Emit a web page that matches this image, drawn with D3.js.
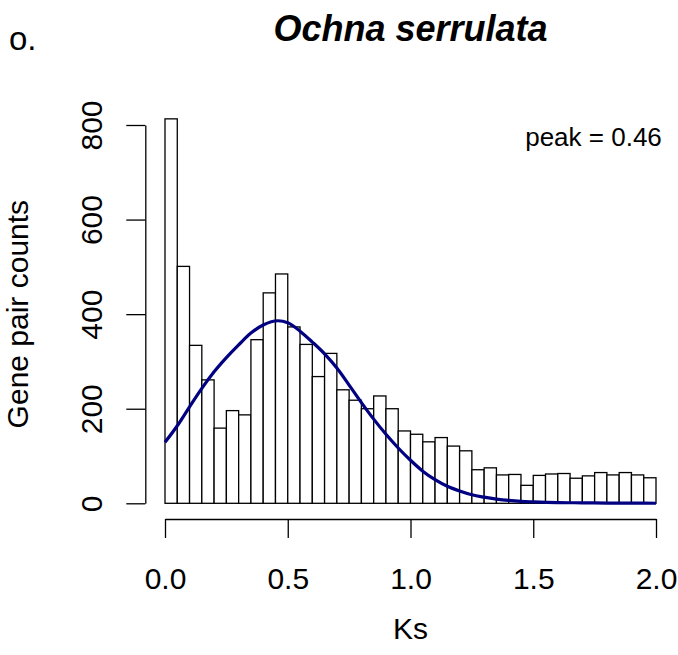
<!DOCTYPE html>
<html>
<head>
<meta charset="utf-8">
<script src="https://cdn.jsdelivr.net/npm/d3@7"></script>
<style>
  html, body { margin: 0; padding: 0; background: #fff; }
  svg { display: block; font-family: "Liberation Sans", Arial, Helvetica, sans-serif; }
</style>
</head>
<body>
<svg id="chart" width="678" height="655"></svg>
<script>
// ---- data ----
const binWidth = 0.05;
const binStarts = d3.range(0, 40).map(i => +(i * binWidth).toFixed(2));
const binCounts = [813, 501, 334, 261, 159, 196, 187, 346, 445, 485,
                   373, 336, 268, 317, 240, 218, 200, 227, 200, 153,
                   146, 130, 139, 121, 111, 71, 75, 60, 61, 38,
                   59, 62, 63, 53, 58, 65, 60, 65, 60, 54];
const curveKs =     [0, 0.05, 0.1, 0.15, 0.2, 0.25, 0.3, 0.35, 0.4, 0.46, 0.5, 0.55, 0.6, 0.65, 0.7, 0.75, 0.8, 0.85, 0.9, 0.95, 1.0, 1.05, 1.1, 1.15, 1.2, 1.25, 1.3, 1.35, 1.4, 1.45, 1.5, 1.6, 1.7, 1.8, 1.9, 2.0];
const curveCounts = [129, 164, 204, 243, 278, 308, 335, 360, 377, 386, 382, 364, 341, 316, 286, 250, 213, 178, 146, 117, 91, 68, 50, 36, 26, 18, 13, 9, 6, 4, 3, 1.5, 1, 0.5, 0.3, 0.1];
const xTicks = [0, 0.5, 1.0, 1.5, 2.0];
const yTicks = [0, 200, 400, 600, 800];
const titleText = "Ochna serrulata";
const panelLetter = "o.";
const peakLabel = "peak = 0.46";
const xLabel = "Ks";
const yLabel = "Gene pair counts";

// ---- layout ----
const svg = d3.select("#chart");
const x = d3.scaleLinear().domain([0, 2]).range([165, 656]);
const y = d3.scaleLinear().domain([0, 800]).range([503.3, 125]);
const fontBase = 30;

// bars
svg.append("g").selectAll("rect")
  .data(binStarts.map((s, i) => ({ s, c: binCounts[i] })))
  .join("rect")
  .attr("x", d => x(d.s))
  .attr("width", d => x(d.s + binWidth) - x(d.s))
  .attr("y", d => y(d.c))
  .attr("height", d => y(0) - y(d.c))
  .attr("fill", "#fff")
  .attr("stroke", "#000")
  .attr("stroke-width", 1.3);

// fitted curve
const line = d3.line()
  .x((d, i) => x(curveKs[i]))
  .y(d => y(d))
  .curve(d3.curveMonotoneX);
svg.append("path")
  .datum(curveCounts)
  .attr("d", line)
  .attr("fill", "none")
  .attr("stroke", "#000080")
  .attr("stroke-width", 3.2);

// x axis
const gx = svg.append("g")
  .attr("transform", "translate(0,519)")
  .call(d3.axisBottom(x).tickValues(xTicks).tickSize(19).tickSizeOuter(0)
        .tickFormat(d3.format(".1f")));
gx.select(".domain").attr("stroke", "#000").attr("stroke-width", 1.3);
gx.selectAll(".tick line").attr("stroke", "#000").attr("stroke-width", 1.3);
gx.selectAll(".tick text")
  .attr("y", 70).attr("dy", null)
  .attr("fill", "#000")
  .style("font-size", fontBase + "px")
  .style("font-family", "Liberation Sans, Arial, sans-serif");

// y axis
const gy = svg.append("g")
  .attr("transform", "translate(145.3,0)")
  .call(d3.axisLeft(y).tickValues(yTicks).tickSize(19).tickSizeOuter(0)
        .tickFormat(d3.format("d")));
gy.select(".domain").attr("stroke", "#000").attr("stroke-width", 1.3);
gy.selectAll(".tick line").attr("stroke", "#000").attr("stroke-width", 1.3);
gy.selectAll(".tick text")
  .attr("x", 0).attr("y", -43).attr("dy", null)
  .attr("transform", "rotate(-90)")
  .attr("text-anchor", "middle")
  .attr("fill", "#000")
  .style("font-size", fontBase + "px")
  .style("font-family", "Liberation Sans, Arial, sans-serif");

// axis titles
svg.append("text")
  .attr("x", x(1)).attr("y", 639)
  .attr("text-anchor", "middle")
  .style("font-size", fontBase + "px")
  .text(xLabel);
svg.append("text")
  .attr("transform", `translate(28,${(y(0) + y(800)) / 2}) rotate(-90)`)
  .attr("text-anchor", "middle")
  .style("font-size", "30px")
  .text(yLabel);

// title
svg.append("text")
  .attr("x", (x(0) + x(2)) / 2).attr("y", 41)
  .attr("text-anchor", "middle")
  .style("font-size", "36px")
  .style("font-weight", "bold")
  .style("font-style", "italic")
  .text(titleText);

// panel letter
svg.append("text")
  .attr("x", 9).attr("y", 50)
  .style("font-size", "33px")
  .text(panelLetter);

// peak annotation
svg.append("text")
  .attr("x", 593.5).attr("y", 146)
  .attr("text-anchor", "middle")
  .style("font-size", "26px")
  .text(peakLabel);
</script>
</body>
</html>
